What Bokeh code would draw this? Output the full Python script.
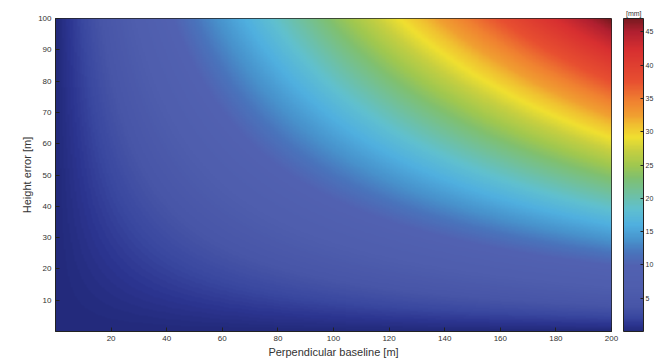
import numpy as np
from bokeh.plotting import figure
from bokeh.models import (LinearColorMapper, ColorBar, FixedTicker, Range1d, Title)
from bokeh.embed import file_html
from bokeh.resources import INLINE

# ---- data ----
baseline_ticks = [20, 40, 60, 80, 100, 120, 140, 160, 180, 200]     # perpendicular baseline [m]
height_ticks = [10, 20, 30, 40, 50, 60, 70, 80, 90, 100]            # height error [m]
cbar_ticks = [5, 10, 15, 20, 25, 30, 35, 40, 45]                    # [mm]
baseline_max = 200.0
height_max = 100.0
slant_range_m = 850000.0          # sensor-target slant range
incidence_deg = 30.0              # incidence angle
cbar_max = 47.0

# colour map anchors (fraction, colour)
cmap_pos = [0.0, 0.02, 0.045, 0.08, 0.14, 0.21, 0.25, 0.29, 0.34, 0.39, 0.44, 0.49,
            0.53, 0.58, 0.62, 0.66, 0.69, 0.74, 0.80, 0.90, 0.96, 1.0]
cmap_col = ["#232a7c", "#2c3590", "#3a48a0", "#4856a8", "#4f5eae", "#5262b2", "#4a74bc",
            "#4892cc", "#50b0e0", "#60c0d0", "#70c0a0", "#80c070", "#a0c850",
            "#c8d040", "#f0e030", "#f0c030", "#f0a030", "#f08030", "#e85030",
            "#d83030", "#b02030", "#7a1a20"]


def hex2rgb(h):
    return [int(h[i:i + 2], 16) for i in (1, 3, 5)]


rgb = np.array([hex2rgb(c) for c in cmap_col], dtype=float)
t = np.linspace(0, 1, 256)
palette = []
for v in t:
    r = np.interp(v, cmap_pos, rgb[:, 0])
    g = np.interp(v, cmap_pos, rgb[:, 1])
    b = np.interp(v, cmap_pos, rgb[:, 2])
    palette.append("#%02x%02x%02x" % (int(r), int(g), int(b)))

# deformation error [mm] = B_perp * dh / (R sin(theta))
B = np.linspace(0, baseline_max, 401)
H = np.linspace(0, height_max, 401)
BB, HH = np.meshgrid(B, H)
field = BB * HH / (slant_range_m * np.sin(np.radians(incidence_deg))) * 1000.0

p = figure(width=655, height=361, output_backend="svg", toolbar_location=None,
           x_range=Range1d(0, baseline_max), y_range=Range1d(0, height_max),
           min_border_left=55, min_border_right=44, min_border_top=18,
           min_border_bottom=30)

mapper = LinearColorMapper(palette=palette, low=0, high=cbar_max)
p.image(image=[field], x=0, y=0, dw=baseline_max, dh=height_max,
        color_mapper=mapper)

p.grid.visible = False
p.outline_line_color = "#222222"
p.outline_line_width = 1

for ax in (p.xaxis[0], p.yaxis[0]):
    ax.major_tick_in = 4
    ax.major_tick_out = 0
    ax.minor_tick_line_color = None
    ax.major_label_text_font = "Liberation Sans"
    ax.major_label_text_font_size = "8px"
    ax.major_label_text_color = "#333333"
    ax.axis_label_text_font = "Liberation Sans"
    ax.axis_label_text_font_size = "11px"
    ax.axis_label_text_font_style = "normal"
    ax.axis_label_text_color = "#333333"
    ax.major_label_standoff = 4
    ax.axis_label_standoff = 2
    ax.axis_line_color = "#222222"
    ax.major_tick_line_color = "#222222"

p.xaxis.ticker = FixedTicker(ticks=baseline_ticks)
p.yaxis.ticker = FixedTicker(ticks=height_ticks)
p.xaxis.axis_label = "Perpendicular baseline [m]"
p.yaxis.axis_label = "Height error [m]"

cb = ColorBar(color_mapper=mapper, ticker=FixedTicker(ticks=cbar_ticks),
              width=20, height=313, location=(568, 0), margin=0, padding=0,
              label_standoff=2,
              major_label_text_font_size="7px",
              major_label_text_font="Liberation Sans",
              major_label_text_color="#333333",
              major_tick_in=3, major_tick_out=0, major_tick_line_color="#222222",
              bar_line_color="#222222", background_fill_alpha=0)
p.add_layout(cb, "center")

p.add_layout(Title(text="[mm]", align="right", offset=-30, standoff=3,
                   text_font="Liberation Sans", text_font_size="7px",
                   text_font_style="normal", text_color="#333333"), "above")

open("out.html", "w").write(file_html(p, INLINE))
